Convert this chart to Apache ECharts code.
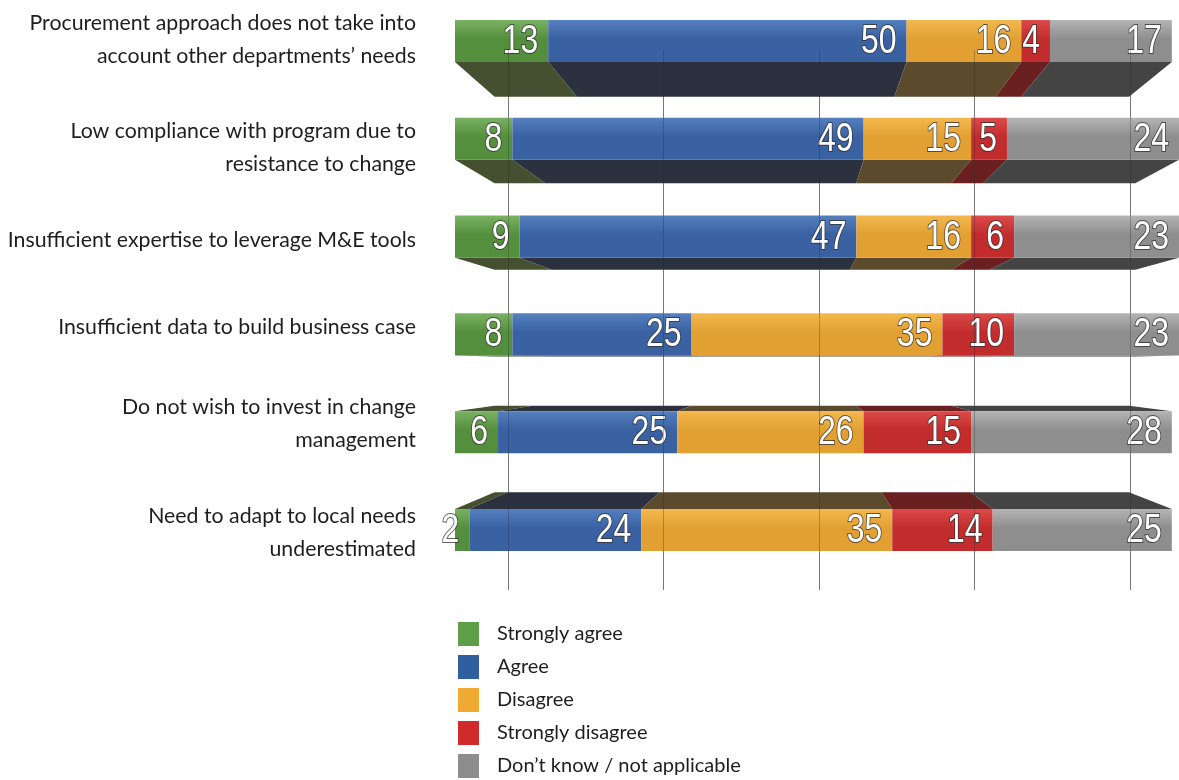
<!DOCTYPE html>
<html>
<head>
<meta charset="utf-8">
<script src="https://cdn.jsdelivr.net/npm/echarts@6/dist/echarts.min.js"></script>
<style>
  html, body { margin: 0; padding: 0; background: #ffffff; }
  #chart { width: 1179px; height: 780px; }
</style>
</head>
<body>
<div id="chart"></div>
<script>
// ---------------- data ----------------
const categories = [
  'Procurement approach does not take into\naccount other departments’ needs',
  'Low compliance with program due to\nresistance to change',
  'Insufficient expertise to leverage M&E tools',
  'Insufficient data to build business case',
  'Do not wish to invest in change\nmanagement',
  'Need to adapt to local needs\nunderestimated'
];
const seriesNames = ['Strongly agree', 'Agree', 'Disagree', 'Strongly disagree', 'Don’t know / not applicable'];
const stronglyAgree    = [13, 8, 9, 8, 6, 2];
const agree            = [50, 49, 47, 25, 25, 24];
const disagree         = [16, 15, 16, 35, 26, 35];
const stronglyDisagree = [4, 5, 6, 10, 15, 14];
const dontKnow         = [17, 24, 23, 23, 28, 25];
const gridTicks = [0, 25, 50, 75, 100];

// ---------------- styles ----------------
const legendColors = ['#5e9e48', '#2f5f9f', '#f0aa32', '#d12a2a', '#8d8d8d'];
const faceTop      = ['#79b262', '#557fbf', '#f3b84e', '#dc4a4a', '#b4b4b4'];
const faceBottom   = ['#548f3e', '#3a62a2', '#e2a032', '#c22c2c', '#8e8e8e'];
const sideColors   = ['#44502f', '#2c3140', '#5b4a2c', '#6a2020', '#444444'];
// per-row vertical nudge of the category label (px, negative = up)
const labelShift = [-1, 9, 4, -7, -9, 3];

const allSeries = [stronglyAgree, agree, disagree, stronglyDisagree, dontKnow];

// perspective parameters (pixel-space construction)
const VP_VALUE = 48;   // vanishing point along value axis
const VP_ROW = 3.3;    // vanishing point in category units
const DEPTH = 0.115;

function buildData(si) {
  return categories.map((c, ci) => {
    let start = 0;
    for (let k = 0; k < si; k++) start += allSeries[k][ci];
    const v = allSeries[si][ci];
    return [ci, start, start + v, v];
  });
}

function makeRender(si) {
  return function (params, api) {
    const ci = api.value(0), s = api.value(1), e = api.value(2), v = api.value(3);
    const p0 = api.coord([s, ci]);
    const p1 = api.coord([e, ci]);
    const r0 = api.coord([0, 0])[1], r1 = api.coord([0, 1])[1];
    const step = Math.abs(r1 - r0);
    const h = step * 0.43;
    const yc = p0[1];
    const yTop = yc - h / 2, yBot = yc + h / 2;
    const vpx = api.coord([VP_VALUE, 0])[0];
    const vpy = r0 + (r1 - r0) * VP_ROW;
    const x0 = p0[0], x1 = p1[0];
    const children = [];
    let edge = null;
    if (yBot < vpy) edge = yBot;
    else if (yTop > vpy) edge = yTop;
    if (edge !== null) {
      const back = edge + DEPTH * (vpy - edge);
      children.push({
        type: 'polygon',
        shape: { points: [[x0, edge], [x1, edge], [x1 + DEPTH * (vpx - x1), back], [x0 + DEPTH * (vpx - x0), back]] },
        style: { fill: sideColors[si] }
      });
    }
    children.push({
      type: 'rect',
      shape: { x: x0, y: yTop, width: x1 - x0, height: h },
      style: {
        fill: new echarts.graphic.LinearGradient(0, 0, 0, 1, [
          { offset: 0, color: faceTop[si] },
          { offset: 0.45, color: faceBottom[si] },
          { offset: 1, color: faceBottom[si] }
        ])
      }
    });
    children.push({
      type: 'text',
      x: x1 - 10,
      y: yc + 1,
      scaleX: 0.8,
      style: {
        text: String(v),
        x: 0,
        y: 0,
        align: 'right',
        verticalAlign: 'middle',
        fontFamily: "'Liberation Sans', Arial, sans-serif",
        fontSize: 40,
        fill: '#ffffff',
        stroke: 'rgba(45,45,45,0.75)',
        lineWidth: 2
      }
    });
    return { type: 'group', children: children };
  };
}

const series = seriesNames.map((name, si) => ({
  name: name,
  type: 'custom',
  xAxisIndex: 0,
  yAxisIndex: 0,
  renderItem: makeRender(si),
  itemStyle: { color: legendColors[si] },
  encode: { x: [1, 2], y: 0 },
  data: buildData(si),
  clip: false,
  z: 3
}));

const rich = { t: { fontFamily: 'Lato', fontSize: 21.3, color: '#1e1e1e', lineHeight: 33, align: 'right' } };
labelShift.forEach((s, i) => {
  rich['s' + i] = { fontSize: 1, lineHeight: Math.max(1, Math.abs(s) * 2) };
});

const chart = echarts.init(document.getElementById('chart'));
chart.setOption({
  backgroundColor: '#ffffff',
  animation: false,
  grid: [
    { left: 455, right: 0, top: 41, bottom: 250 },
    { left: 508, right: 49, top: 50, bottom: 190 },
    { left: 508, right: 49, top: 50, bottom: 190 }
  ],
  xAxis: [
    { gridIndex: 0, type: 'value', min: 0, max: 101, show: false },
    { gridIndex: 1, type: 'value', min: gridTicks[0], max: gridTicks[gridTicks.length - 1], interval: 25,
      axisLine: { show: false }, axisTick: { show: false }, axisLabel: { show: false },
      splitLine: { show: true, lineStyle: { color: '#9a9a9a', width: 1 } }, z: 0 },
    { gridIndex: 2, type: 'value', min: gridTicks[0], max: gridTicks[gridTicks.length - 1], interval: 25,
      axisLine: { show: false }, axisTick: { show: false }, axisLabel: { show: false },
      splitLine: { show: true, lineStyle: { color: 'rgba(40,40,40,0.3)', width: 1 } }, z: 6 }
  ],
  yAxis: [
    { gridIndex: 0, type: 'category', data: categories, inverse: true, boundaryGap: false,
      axisLine: { show: false }, axisTick: { show: false }, splitLine: { show: false },
      axisLabel: {
        margin: 39, align: 'right', fontFamily: 'Lato', fontSize: 21.3, color: '#1e1e1e', lineHeight: 33,
        formatter: function (value, idx) {
          const lines = value.split('\n').map(l => '{t|' + l + '}');
          const s = labelShift[idx];
          if (s < 0) lines.push('{s' + idx + '| }');
          else if (s > 0) lines.unshift('{s' + idx + '| }');
          return lines.join('\n');
        },
        rich: rich
      } },
    { gridIndex: 1, type: 'value', show: false },
    { gridIndex: 2, type: 'value', show: false }
  ],
  legend: {
    orient: 'vertical',
    left: 458,
    top: 622,
    padding: 0,
    icon: 'rect',
    itemWidth: 21,
    itemHeight: 24,
    itemGap: 9,
    textStyle: { fontFamily: 'Lato', fontSize: 20, color: '#1e1e1e', padding: [0, 0, 0, 13] },
    data: seriesNames
  },
  series: series
});
</script>
</body>
</html>
